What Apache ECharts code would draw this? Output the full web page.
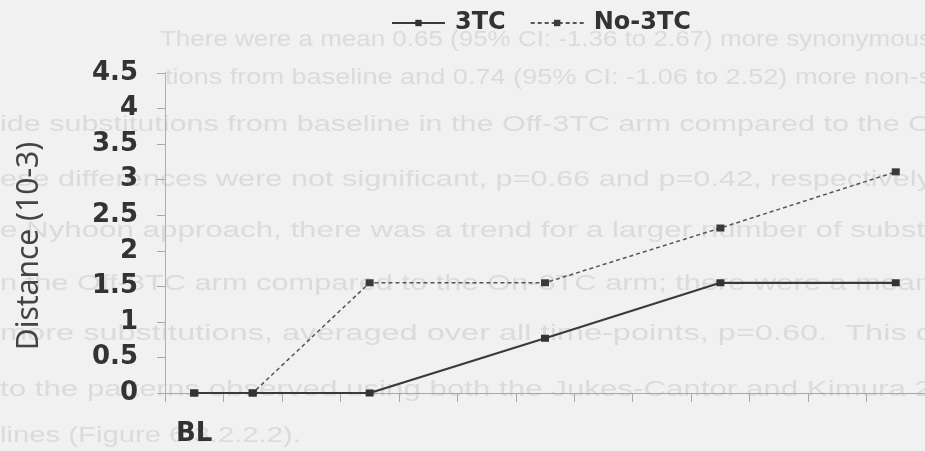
<!DOCTYPE html>
<html>
<head>
<meta charset="utf-8">
<script src="https://cdn.jsdelivr.net/npm/echarts@6/dist/echarts.min.js"></script>
<style>
  html, body { margin: 0; padding: 0; background: #f1f1f1; }
  #chart { width: 925px; height: 451px; }
</style>
</head>
<body>
<div id="chart"></div>
<script>
// Time points along the x axis (only baseline is labelled)
const categories = ['BL', '', '', '', '', '', '', '', '', '', '', '', ''];

// Mean distance (x10^-3) per arm; gaps are time points without a measurement
const series3TC   = [0, 0, null, 0,    null, null, 0.77, null, null, 1.55, null, null, 1.55];
const seriesNo3TC = [0, 0, null, 1.55, null, null, 1.55, null, null, 2.32, null, null, 3.11];

const seriesNames = ['3TC', 'No-3TC'];
const yAxisTitle = 'Distance (10-3)';

// Body text of the page the figure sits on
const pageLines = [
  'There were a mean 0.65 (95% CI: -1.36 to 2.67) more synonymous',
  'tions from baseline and 0.74 (95% CI: -1.06 to 2.52) more non-s',
  'ide substitutions from baseline in the Off-3TC arm compared to the O',
  'ese differences were not significant, p=0.66 and p=0.42, respectively',
  'e Nyhoon approach, there was a trend for a larger number of substi',
  'n the Off-3TC arm compared to the On-3TC arm; there were a mean',
  'more substitutions, averaged over all time-points, p=0.60.  This c',
  'to the patterns observed using both the Jukes-Cantor and Kimura 2',
  'lines (Figure 6.3.2.2.2).'
];
const pageLineX = [160, 165, 0, 0, 0, 0, 0, 0, 0];
const pageLineY = [40, 78, 125, 180, 231, 284, 334, 390, 436];

const PAGE_FONT = '22px "Liberation Sans", Arial, sans-serif';
const PAGE_RIGHT = 932;          // page lines run on past the right edge
const PAGE_DEFAULT_STRETCH = 1.33;

// The scanned page text is set wide; stretch each line to the width it runs to
const measureCtx = document.createElement('canvas').getContext('2d');
measureCtx.font = PAGE_FONT;

const pageText = pageLines.map((t, i) => {
  const w = measureCtx.measureText(t).width;
  const runsToEdge = i < pageLines.length - 1;
  const sx = runsToEdge ? (PAGE_RIGHT - pageLineX[i]) / w : PAGE_DEFAULT_STRETCH;
  return {
    type: 'text',
    z: -10,
    silent: true,
    x: pageLineX[i],
    y: pageLineY[i],
    scaleX: sx,
    style: {
      text: t,
      fill: '#dbdbdb',
      font: PAGE_FONT,
      verticalAlign: 'middle'
    }
  };
});

const chart = echarts.init(document.getElementById('chart'), null, { renderer: 'canvas' });

chart.setOption({
  backgroundColor: '#f1f1f1',
  animation: false,
  graphic: pageText,
  legend: {
    data: seriesNames,
    top: 6,
    left: 386,
    itemWidth: 53,
    itemHeight: 8,
    itemGap: 24,
    textStyle: {
      fontFamily: 'DejaVu Sans',
      fontWeight: 'bold',
      fontSize: 24,
      color: '#333',
      padding: [0, 0, 0, 5]
    }
  },
  grid: {
    left: 165,
    right: -8,
    top: 73,
    bottom: 58,
    containLabel: false
  },
  xAxis: {
    type: 'category',
    data: categories,
    boundaryGap: true,
    axisLine: { show: true, lineStyle: { color: '#a8a8a8', width: 1 } },
    axisTick: { show: true, length: 9, lineStyle: { color: '#a8a8a8' } },
    axisLabel: {
      interval: 0,
      margin: 28,
      fontFamily: 'DejaVu Sans',
      fontWeight: 'bold',
      fontSize: 26,
      color: '#333'
    },
    splitLine: { show: false }
  },
  yAxis: {
    type: 'value',
    min: 0,
    max: 4.5,
    interval: 0.5,
    name: yAxisTitle,
    nameLocation: 'middle',
    nameGap: 121,
    nameTextStyle: {
      fontFamily: 'Noto Sans',
      fontSize: 30,
      color: '#444',
      padding: [0, 26, 0, 0]
    },
    axisLine: { show: true, lineStyle: { color: '#b0b0b0', width: 1 } },
    axisTick: { show: true, length: 8, lineStyle: { color: '#a8a8a8' } },
    axisLabel: {
      margin: 27,
      fontFamily: 'DejaVu Sans',
      fontWeight: 'bold',
      fontSize: 26,
      color: '#333'
    },
    splitLine: { show: false }
  },
  series: [
    {
      name: seriesNames[1],
      type: 'line',
      data: seriesNo3TC,
      connectNulls: true,
      symbol: 'rect',
      symbolSize: [8, 7],
      z: 2,
      itemStyle: { color: '#3a3a3a' },
      lineStyle: { color: '#555', width: 1.5, type: [4, 3] }
    },
    {
      name: seriesNames[0],
      type: 'line',
      data: series3TC,
      connectNulls: true,
      symbol: 'rect',
      symbolSize: [8, 7],
      z: 3,
      itemStyle: { color: '#333' },
      lineStyle: { color: '#3a3a3a', width: 2.2, type: 'solid' }
    }
  ]
});
</script>
</body>
</html>
